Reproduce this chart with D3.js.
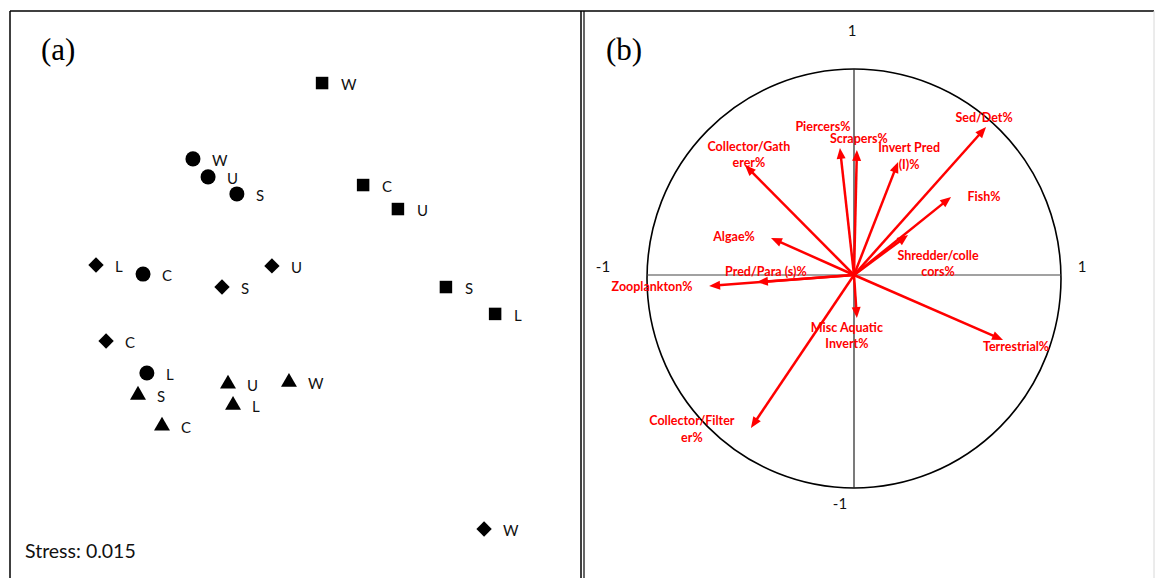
<!DOCTYPE html>
<html>
<head>
<meta charset="utf-8">
<script src="https://cdn.jsdelivr.net/npm/d3@7"></script>
<style>
  body { margin: 0; background: #fff; }
  text { font-family: Lato, "Open Sans", sans-serif; }
</style>
</head>
<body>
<svg id="chart" width="1155" height="578"></svg>
<script>
// ---- (a) NMDS ordination: site scores, one array pair per group ----
const sites = ["W", "C", "U", "S", "L"];
const squareX   = [0.092, 0.263, 0.408, 0.608, 0.813];
const squareY   = [0.904, 0.479, 0.379, 0.054, -0.058];
const circleX   = [-0.446, -0.654, -0.383, -0.263, -0.638];
const circleY   = [0.588, 0.108, 0.513, 0.442, -0.304];
const diamondX  = [0.767, -0.808, -0.117, -0.325, -0.850];
const diamondY  = [-0.954, -0.171, 0.142, 0.054, 0.146];
const triangleX = [-0.046, -0.575, -0.300, -0.675, -0.279];
const triangleY = [-0.342, -0.525, -0.350, -0.396, -0.438];
const stressLabel = "Stress: 0.015";

// ---- (b) correlation circle: diet-category vectors ----
const vectorNames = [
  "Sed/Det%", "Fish%", "Shredder/collectors%", "Invert Pred (I)%", "Scrapers%",
  "Piercers%", "Collector/Gatherer%", "Algae%", "Pred/Para (s)%", "Zooplankton%",
  "Misc Aquatic Invert%", "Terrestrial%", "Collector/Filterer%"
];
const vectorX = [0.638, 0.469, 0.261, 0.213, 0.014, -0.068, -0.527, -0.401, -0.469, -0.700, 0.014, 0.720, -0.498];
const vectorY = [0.715, 0.377, 0.193, 0.546, 0.604, 0.614, 0.531, 0.179, -0.034, -0.053, -0.208, -0.314, -0.739];
const circleTicks = ["1", "-1", "1", "-1"]; // top, left, right, bottom

const svg = d3.select("#chart");

// ---------- panel frames ----------
svg.append("line").attr("x1", 10).attr("x2", 1154).attr("y1", 11).attr("y2", 11)
  .attr("stroke", "#000").attr("stroke-width", 1.5);
svg.append("line").attr("x1", 10).attr("x2", 10).attr("y1", 11).attr("y2", 578)
  .attr("stroke", "#000").attr("stroke-width", 1.5);
svg.append("line").attr("x1", 581).attr("x2", 581).attr("y1", 11).attr("y2", 578)
  .attr("stroke", "#000").attr("stroke-width", 1.5);
svg.append("line").attr("x1", 584).attr("x2", 584).attr("y1", 11).attr("y2", 578)
  .attr("stroke", "#000").attr("stroke-width", 1.2);
svg.append("line").attr("x1", 1154).attr("x2", 1154).attr("y1", 11).attr("y2", 578)
  .attr("stroke", "#d8d8d8").attr("stroke-width", 1);

// ---------- panel (a) ----------
const xA = d3.scaleLinear().domain([-1, 1]).range([60, 540]);
const yA = d3.scaleLinear().domain([-1, 1]).range([540, 60]);

const groups = [
  { xs: squareX,   ys: squareY,   type: d3.symbolSquare,   size: 156, rot: 0 },
  { xs: circleX,   ys: circleY,   type: d3.symbolCircle,   size: 177, rot: 0 },
  { xs: diamondX,  ys: diamondY,  type: d3.symbolSquare,   size: 118, rot: 45 },
  { xs: triangleX, ys: triangleY, type: d3.symbolTriangle, size: 110, rot: 0 }
];

const pa = svg.append("g");
groups.forEach(g => {
  const pts = sites.map((s, i) => ({ site: s, x: g.xs[i], y: g.ys[i] }));
  const sym = d3.symbol().type(g.type).size(g.size);
  pa.selectAll(null).data(pts).enter().append("path")
    .attr("d", sym)
    .attr("fill", "#000")
    .attr("transform", d => `translate(${xA(d.x)},${yA(d.y)}) rotate(${g.rot})`);
  pa.selectAll(null).data(pts).enter().append("text")
    .attr("x", d => xA(d.x) + 19)
    .attr("y", d => yA(d.y) + 1)
    .attr("dominant-baseline", "central")
    .attr("font-size", 15)
    .attr("fill", "#111")
    .text(d => d.site);
});

svg.append("text").attr("x", 41).attr("y", 60)
  .style("font-family", "'Liberation Serif', 'Times New Roman', serif")
  .attr("font-size", 31).text("(a)");
svg.append("text").attr("x", 25).attr("y", 558)
  .attr("font-size", 19.5).attr("fill", "#111").text(stressLabel);

// ---------- panel (b) ----------
const vx = d3.scaleLinear().domain([-1, 1]).range([647, 1061]);
const vy = d3.scaleLinear().domain([-1, 1]).range([482, 68]);
const circTop = 69, circBottom = 488;

const pb = svg.append("g");
pb.append("ellipse")
  .attr("cx", vx(0)).attr("cy", (circTop + circBottom) / 2)
  .attr("rx", (vx(1) - vx(-1)) / 2).attr("ry", (circBottom - circTop) / 2)
  .attr("fill", "none").attr("stroke", "#000").attr("stroke-width", 1.6);
pb.append("line").attr("x1", vx(-1)).attr("x2", vx(1)).attr("y1", vy(0)).attr("y2", vy(0))
  .attr("stroke", "#444").attr("stroke-width", 1.2);
pb.append("line").attr("x1", vx(0)).attr("x2", vx(0)).attr("y1", circTop).attr("y2", circBottom)
  .attr("stroke", "#222").attr("stroke-width", 1.2);

// circle tick labels
const tickPos = [
  { x: vx(0) - 2, y: 30 },
  { x: 603, y: 266 },
  { x: 1082, y: 266 },
  { x: vx(0) - 14, y: 503 }
];
pb.selectAll(null).data(circleTicks).enter().append("text")
  .attr("x", (d, i) => tickPos[i].x).attr("y", (d, i) => tickPos[i].y)
  .attr("text-anchor", "middle").attr("dominant-baseline", "central")
  .attr("font-size", 15).attr("fill", "#111").text(d => d);

// arrows
const headLen = 11, headHalf = 4.5;
const vecs = vectorNames.map((n, i) => ({ name: n, x: vectorX[i], y: vectorY[i] }));
vecs.forEach(v => {
  const x0 = vx(0), y0 = vy(0), x1 = vx(v.x), y1 = vy(v.y);
  const ang = Math.atan2(y1 - y0, x1 - x0);
  const c = Math.cos(ang), s = Math.sin(ang);
  const bx = x1 - headLen * c, by = y1 - headLen * s;
  pb.append("line")
    .attr("x1", x0).attr("y1", y0).attr("x2", bx + 2 * c).attr("y2", by + 2 * s)
    .attr("stroke", "#ff0000").attr("stroke-width", 2.5);
  pb.append("path")
    .attr("d", `M${x1},${y1}L${bx - headHalf * s},${by + headHalf * c}L${bx + headHalf * s},${by - headHalf * c}Z`)
    .attr("fill", "#ff0000");
});

// vector labels: wrapped lines and offsets from the arrow tip
const labelLayout = {
  "Sed/Det%":             { lines: ["Sed/Det%"], dx: -2, dy: -9 },
  "Fish%":                { lines: ["Fish%"], dx: 33, dy: 0 },
  "Shredder/collectors%": { lines: ["Shredder/colle", "cors%"], dx: 30, dy: 20 },
  "Invert Pred (I)%":     { lines: ["Invert Pred", "(I)%"], dx: 11, dy: -14 },
  "Scrapers%":            { lines: ["Scrapers%"], dx: 2, dy: -11 },
  "Piercers%":            { lines: ["Piercers%"], dx: -17, dy: -21 },
  "Collector/Gatherer%":  { lines: ["Collector/Gath", "erer%"], dx: 4, dy: -19 },
  "Algae%":               { lines: ["Algae%"], dx: -37, dy: -1 },
  "Pred/Para (s)%":       { lines: ["Pred/Para (s)%"], dx: 9, dy: -11 },
  "Zooplankton%":         { lines: ["Zooplankton%"], dx: -57, dy: 1 },
  "Misc Aquatic Invert%": { lines: ["Misc Aquatic", "Invert%"], dx: -10, dy: 9 },
  "Terrestrial%":         { lines: ["Terrestrial%"], dx: 13, dy: 7 },
  "Collector/Filterer%":  { lines: ["Collector/Filter", "er%"], dx: -59, dy: -7 }
};
vecs.forEach(v => {
  const L = labelLayout[v.name];
  const t = pb.append("text")
    .attr("text-anchor", "middle")
    .attr("font-size", 12.5).attr("font-weight", 700).attr("fill", "#ff0000");
  L.lines.forEach((ln, k) => {
    t.append("tspan")
      .attr("x", vx(v.x) + L.dx)
      .attr("y", vy(v.y) + L.dy + k * 16.5 + 4.5)
      .text(ln);
  });
});

svg.append("text").attr("x", 606).attr("y", 60)
  .style("font-family", "'Liberation Serif', 'Times New Roman', serif")
  .attr("font-size", 31).text("(b)");
</script>
</body>
</html>
